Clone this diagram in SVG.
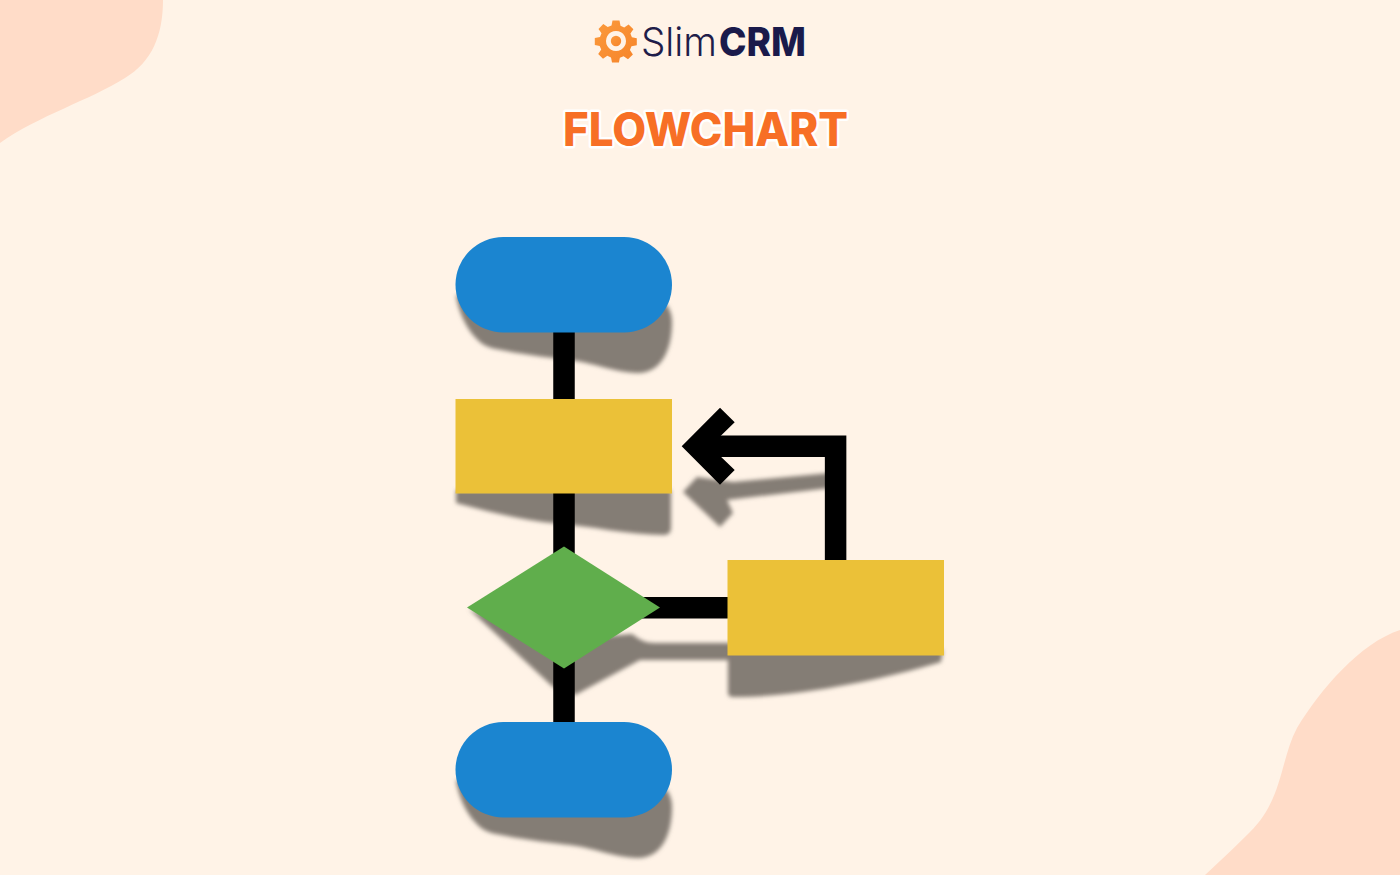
<svg xmlns="http://www.w3.org/2000/svg" width="1400" height="875" viewBox="0 0 1400 875">
<defs>
<style>
.sh{fill:#847d75;filter:url(#b)}
.pill{fill:#1b85d0}
.proc{fill:#ebc138}
.line{fill:none;stroke:#000;stroke-width:21.5}
.t{font-family:"Inter","Liberation Sans",sans-serif}
</style>
<filter id="b" x="-20%" y="-20%" width="140%" height="140%"><feGaussianBlur stdDeviation="2.3"/></filter>
<linearGradient id="g" x1="0" y1="0" x2="1" y2="1"><stop offset="0" stop-color="#fb9a3c"/><stop offset="1" stop-color="#f6842a"/></linearGradient>
</defs>
<rect width="1400" height="875" fill="#fff3e7"/>
<path d="M0 0H163C163 35 152 62 125 78C90 100 38 116 0 143Z" fill="#ffdcc8"/>
<path d="M1400 630C1360 643 1320 690 1297 728C1280 760 1283 800 1250 832C1237 845 1220 861 1205 875H1400Z" fill="#ffdcc8"/>
<g id="logo">
<g fill="url(#g)" transform="translate(616 41)">
<path fill-rule="evenodd" d="M-3.500-20.500H3.500L4.500-15.200 8.200-13.600 12.600-16.600 17.400-11.800 14.400-7.400 15.900-3.700 20.800-2.700V4.300L15.500 5.300 13.900 9 16.900 13.400 12 18.200 7.600 15.200 3.900 16.700 2.900 21.500H-4L-5 16.400-8.700 14.800-13 17.800-17.800 13-14.800 8.600-16.300 4.900-21.200 3.900V-3L-16-4-14.500-7.700-17.500-12.100-12.700-16.900-8.300-13.900-4.500-15.500ZM0-10A10 10 0 1 0 .01-10Z"/>
<circle r="5.200"/>
</g>
<text class="t" x="641" y="56" font-size="40" font-weight="300" fill="#1f1d4a" textLength="76" lengthAdjust="spacingAndGlyphs">Slim</text>
<text class="t" x="719" y="56" font-size="40" font-weight="800" fill="#1a1a4b" textLength="87" lengthAdjust="spacingAndGlyphs">CRM</text>
</g>
<text id="title" class="t" x="563" y="146" font-size="46" font-weight="800" fill="#f76f26" stroke="#fff" stroke-width="5" stroke-linejoin="round" paint-order="stroke" textLength="285" lengthAdjust="spacingAndGlyphs">FLOWCHART</text>
<g id="shadows">
<path class="sh" d="M456 295C458 310 465 325 473 335C480 343 485 347 496 349C515 353 535 356 553 358C570 360 580 361 595 365C610 369 625 373 638 373C660 373 672 352 672 322C672 315 670 310 667 305Z"/>
<path class="sh" d="M456 490V503C490 512 525 521 553 523C590 526 630 535 664 535Q671 535 671 528V490Z"/>
<path class="sh" d="M683 492L697 477L733 482L830 473V488L727 500L733 513L720 527Z"/>
<path class="sh" d="M469 609L553 687L575 695L640 660H735V643H655C645 643 640 640 632 634L560 640Z"/>
<path class="sh" d="M728 650V693Q728 697 733 697C800 697 880 680 941 662L943 650Z"/>
<path class="sh" d="M456 780C458 795 465 810 473 820C480 828 485 832 496 834C515 838 535 841 553 843C570 845 580 846 595 850C610 854 625 858 638 858C660 858 672 837 672 807C672 800 670 795 667 790Z"/>
</g>
<g id="connectors">
<path class="line" d="M564 332V399"/>
<path class="line" d="M564 493V560"/>
<path class="line" d="M564 655V722"/>
<path class="line" d="M640 607.800H728"/>
<path class="line" d="M835.600 560V446.200H700"/>
<path d="M681.700 446.200L720 407.700L734.700 422.300L710 446.200L734.700 470L720 484.700Z"/>
</g>
<g id="start"><rect class="pill" x="455.500" y="237" width="216.500" height="95.500" rx="47.750"/></g>
<g id="process1"><rect class="proc" x="455.500" y="399" width="216.500" height="94.500"/></g>
<g id="decision"><path d="M467 607.500L564 546.500L660 607.500L564 668.500Z" fill="#60ae4c"/></g>
<g id="process2"><rect class="proc" x="727.500" y="560" width="216.500" height="95.500"/></g>
<g id="end"><rect class="pill" x="455.500" y="722" width="216.500" height="95.500" rx="47.750"/></g>
</svg>
